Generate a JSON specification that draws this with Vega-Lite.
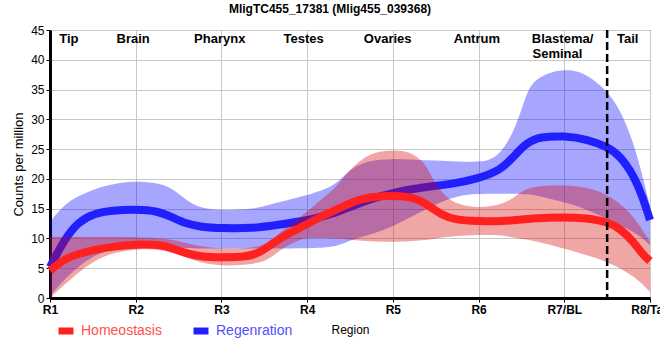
{
  "$schema": "https://vega.github.io/schema/vega-lite/v6.json",
  "width": 600,
  "height": 268,
  "autosize": {"type": "none"},
  "padding": {"left": 50, "top": 30, "right": 10, "bottom": 62},
  "title": {"text": "MligTC455_17381 (Mlig455_039368)", "fontSize": 12, "fontWeight": "bold", "font": "Liberation Sans", "color": "black", "anchor": "middle", "dx": -20, "offset": 8},
  "config": {
    "view": {"stroke": "black", "strokeWidth": 1},
    "axis": {"labelFont": "Liberation Sans", "titleFont": "Liberation Sans", "labelColor": "black", "titleColor": "black", "gridColor": "#c8c8c8", "gridWidth": 1, "domainColor": "black", "domainWidth": 3, "tickColor": "black", "tickSize": 4},
    "axisY": {"values": [0, 5, 10, 15, 20, 25, 30, 35, 40, 45], "labelFontSize": 12, "labelPadding": 2, "labelOverlap": false, "labelFlush": false, "titleFontSize": 13, "titleFontWeight": "normal", "titlePadding": 5}
  },
  "datasets": {
    "lines": [
      {"s": "Homeostasis", "x": 1.0, "v": 4.6},
      {"s": "Homeostasis", "x": 1.17, "v": 6.6},
      {"s": "Homeostasis", "x": 1.33, "v": 7.4},
      {"s": "Homeostasis", "x": 1.52, "v": 8.1},
      {"s": "Homeostasis", "x": 1.72, "v": 8.6},
      {"s": "Homeostasis", "x": 2.0, "v": 9.0},
      {"s": "Homeostasis", "x": 2.28, "v": 9.0},
      {"s": "Homeostasis", "x": 2.44, "v": 8.3},
      {"s": "Homeostasis", "x": 2.59, "v": 7.5},
      {"s": "Homeostasis", "x": 2.75, "v": 6.95},
      {"s": "Homeostasis", "x": 3.0, "v": 6.8},
      {"s": "Homeostasis", "x": 3.3, "v": 6.9},
      {"s": "Homeostasis", "x": 3.45, "v": 7.6},
      {"s": "Homeostasis", "x": 3.6, "v": 9.2},
      {"s": "Homeostasis", "x": 3.75, "v": 10.6},
      {"s": "Homeostasis", "x": 4.0, "v": 12.4},
      {"s": "Homeostasis", "x": 4.15, "v": 13.6},
      {"s": "Homeostasis", "x": 4.34, "v": 14.8},
      {"s": "Homeostasis", "x": 4.5, "v": 16.0},
      {"s": "Homeostasis", "x": 4.73, "v": 17.0},
      {"s": "Homeostasis", "x": 5.0, "v": 17.2},
      {"s": "Homeostasis", "x": 5.26, "v": 16.9},
      {"s": "Homeostasis", "x": 5.41, "v": 15.6},
      {"s": "Homeostasis", "x": 5.57, "v": 13.9},
      {"s": "Homeostasis", "x": 5.73, "v": 13.1},
      {"s": "Homeostasis", "x": 6.0, "v": 12.9},
      {"s": "Homeostasis", "x": 6.25, "v": 12.8},
      {"s": "Homeostasis", "x": 6.64, "v": 13.4},
      {"s": "Homeostasis", "x": 7.0, "v": 13.6},
      {"s": "Homeostasis", "x": 7.26, "v": 13.4},
      {"s": "Homeostasis", "x": 7.5, "v": 12.8},
      {"s": "Homeostasis", "x": 7.65, "v": 11.7},
      {"s": "Homeostasis", "x": 7.81, "v": 9.4},
      {"s": "Homeostasis", "x": 7.92, "v": 7.2},
      {"s": "Homeostasis", "x": 8.0, "v": 6.2},
      {"s": "Regenration", "x": 1.0, "v": 5.2},
      {"s": "Regenration", "x": 1.17, "v": 9.9},
      {"s": "Regenration", "x": 1.33, "v": 12.8},
      {"s": "Regenration", "x": 1.52, "v": 14.2},
      {"s": "Regenration", "x": 1.72, "v": 14.7},
      {"s": "Regenration", "x": 2.0, "v": 14.9},
      {"s": "Regenration", "x": 2.26, "v": 14.6},
      {"s": "Regenration", "x": 2.42, "v": 13.6},
      {"s": "Regenration", "x": 2.58, "v": 12.5},
      {"s": "Regenration", "x": 2.77, "v": 11.9},
      {"s": "Regenration", "x": 3.0, "v": 11.7},
      {"s": "Regenration", "x": 3.37, "v": 11.7},
      {"s": "Regenration", "x": 3.62, "v": 12.2},
      {"s": "Regenration", "x": 4.0, "v": 13.0},
      {"s": "Regenration", "x": 4.15, "v": 13.6},
      {"s": "Regenration", "x": 4.35, "v": 14.4},
      {"s": "Regenration", "x": 4.5, "v": 15.3},
      {"s": "Regenration", "x": 4.73, "v": 16.6},
      {"s": "Regenration", "x": 5.0, "v": 17.7},
      {"s": "Regenration", "x": 5.34, "v": 18.6},
      {"s": "Regenration", "x": 5.73, "v": 19.2},
      {"s": "Regenration", "x": 6.0, "v": 20.1},
      {"s": "Regenration", "x": 6.25, "v": 21.4},
      {"s": "Regenration", "x": 6.4, "v": 23.6},
      {"s": "Regenration", "x": 6.56, "v": 26.1},
      {"s": "Regenration", "x": 6.72, "v": 27.1},
      {"s": "Regenration", "x": 7.0, "v": 27.2},
      {"s": "Regenration", "x": 7.26, "v": 26.7},
      {"s": "Regenration", "x": 7.5, "v": 25.4},
      {"s": "Regenration", "x": 7.65, "v": 23.9},
      {"s": "Regenration", "x": 7.81, "v": 20.6},
      {"s": "Regenration", "x": 7.92, "v": 16.7},
      {"s": "Regenration", "x": 8.0, "v": 13.1}
    ],
    "bands": [
      {"s": "Homeostasis", "x": 1.0, "lo": 0.0, "hi": 10.3},
      {"s": "Homeostasis", "x": 1.19, "lo": 2.5, "hi": 10.3},
      {"s": "Homeostasis", "x": 1.39, "lo": 5.0, "hi": 10.3},
      {"s": "Homeostasis", "x": 1.58, "lo": 6.8, "hi": 10.3},
      {"s": "Homeostasis", "x": 1.78, "lo": 7.7, "hi": 10.3},
      {"s": "Homeostasis", "x": 2.0, "lo": 8.2, "hi": 10.2},
      {"s": "Homeostasis", "x": 2.28, "lo": 8.2, "hi": 10.1},
      {"s": "Homeostasis", "x": 2.5, "lo": 7.3, "hi": 9.6},
      {"s": "Homeostasis", "x": 2.75, "lo": 5.9, "hi": 8.6},
      {"s": "Homeostasis", "x": 3.0, "lo": 5.4, "hi": 8.3},
      {"s": "Homeostasis", "x": 3.25, "lo": 5.5, "hi": 8.3},
      {"s": "Homeostasis", "x": 3.5, "lo": 6.0, "hi": 8.7},
      {"s": "Homeostasis", "x": 3.62, "lo": 7.3, "hi": 10.2},
      {"s": "Homeostasis", "x": 3.75, "lo": 8.6, "hi": 11.8},
      {"s": "Homeostasis", "x": 3.88, "lo": 9.6, "hi": 13.2},
      {"s": "Homeostasis", "x": 4.0, "lo": 10.1, "hi": 14.5},
      {"s": "Homeostasis", "x": 4.15, "lo": 10.1, "hi": 16.4},
      {"s": "Homeostasis", "x": 4.35, "lo": 10.0, "hi": 18.7},
      {"s": "Homeostasis", "x": 4.5, "lo": 9.8, "hi": 21.7},
      {"s": "Homeostasis", "x": 4.73, "lo": 9.5, "hi": 24.4},
      {"s": "Homeostasis", "x": 5.0, "lo": 9.4, "hi": 24.9},
      {"s": "Homeostasis", "x": 5.2, "lo": 9.5, "hi": 24.6},
      {"s": "Homeostasis", "x": 5.35, "lo": 9.7, "hi": 23.0},
      {"s": "Homeostasis", "x": 5.43, "lo": 9.8, "hi": 21.1},
      {"s": "Homeostasis", "x": 5.51, "lo": 10.0, "hi": 18.9},
      {"s": "Homeostasis", "x": 5.61, "lo": 10.2, "hi": 17.2},
      {"s": "Homeostasis", "x": 5.7, "lo": 10.4, "hi": 16.1},
      {"s": "Homeostasis", "x": 5.86, "lo": 10.5, "hi": 15.4},
      {"s": "Homeostasis", "x": 6.0, "lo": 10.6, "hi": 15.2},
      {"s": "Homeostasis", "x": 6.25, "lo": 10.6, "hi": 15.6},
      {"s": "Homeostasis", "x": 6.4, "lo": 10.2, "hi": 16.7},
      {"s": "Homeostasis", "x": 6.5, "lo": 9.9, "hi": 17.9},
      {"s": "Homeostasis", "x": 6.64, "lo": 9.7, "hi": 18.8},
      {"s": "Homeostasis", "x": 7.0, "lo": 8.3, "hi": 19.0},
      {"s": "Homeostasis", "x": 7.26, "lo": 7.2, "hi": 18.6},
      {"s": "Homeostasis", "x": 7.5, "lo": 6.1, "hi": 17.5},
      {"s": "Homeostasis", "x": 7.73, "lo": 4.4, "hi": 15.0},
      {"s": "Homeostasis", "x": 7.88, "lo": 2.8, "hi": 12.2},
      {"s": "Homeostasis", "x": 8.0, "lo": 1.0, "hi": 9.4},
      {"s": "Regenration", "x": 1.0, "lo": 0.3, "hi": 12.8},
      {"s": "Regenration", "x": 1.19, "lo": 3.5, "hi": 16.1},
      {"s": "Regenration", "x": 1.39, "lo": 6.0, "hi": 17.5},
      {"s": "Regenration", "x": 1.58, "lo": 7.6, "hi": 18.6},
      {"s": "Regenration", "x": 1.78, "lo": 8.3, "hi": 19.3},
      {"s": "Regenration", "x": 2.0, "lo": 8.6, "hi": 19.6},
      {"s": "Regenration", "x": 2.28, "lo": 8.6, "hi": 19.3},
      {"s": "Regenration", "x": 2.44, "lo": 8.5, "hi": 18.3},
      {"s": "Regenration", "x": 2.59, "lo": 8.4, "hi": 16.4},
      {"s": "Regenration", "x": 2.75, "lo": 8.3, "hi": 15.1},
      {"s": "Regenration", "x": 3.0, "lo": 8.3, "hi": 14.7},
      {"s": "Regenration", "x": 3.37, "lo": 8.3, "hi": 14.9},
      {"s": "Regenration", "x": 3.53, "lo": 8.3, "hi": 15.6},
      {"s": "Regenration", "x": 4.0, "lo": 8.3, "hi": 17.2},
      {"s": "Regenration", "x": 4.27, "lo": 8.5, "hi": 18.5},
      {"s": "Regenration", "x": 4.4, "lo": 9.0, "hi": 20.0},
      {"s": "Regenration", "x": 4.5, "lo": 9.7, "hi": 21.6},
      {"s": "Regenration", "x": 4.71, "lo": 10.5, "hi": 23.1},
      {"s": "Regenration", "x": 5.0, "lo": 12.0, "hi": 23.4},
      {"s": "Regenration", "x": 5.25, "lo": 13.9, "hi": 23.2},
      {"s": "Regenration", "x": 5.5, "lo": 15.8, "hi": 23.1},
      {"s": "Regenration", "x": 5.75, "lo": 17.2, "hi": 22.9},
      {"s": "Regenration", "x": 6.0, "lo": 17.5, "hi": 22.8},
      {"s": "Regenration", "x": 6.19, "lo": 17.5, "hi": 23.3},
      {"s": "Regenration", "x": 6.35, "lo": 17.5, "hi": 26.1},
      {"s": "Regenration", "x": 6.48, "lo": 17.5, "hi": 30.6},
      {"s": "Regenration", "x": 6.56, "lo": 17.4, "hi": 34.4},
      {"s": "Regenration", "x": 6.64, "lo": 17.3, "hi": 36.4},
      {"s": "Regenration", "x": 6.8, "lo": 16.8, "hi": 37.8},
      {"s": "Regenration", "x": 7.0, "lo": 16.1, "hi": 38.4},
      {"s": "Regenration", "x": 7.18, "lo": 15.3, "hi": 38.1},
      {"s": "Regenration", "x": 7.34, "lo": 14.3, "hi": 36.7},
      {"s": "Regenration", "x": 7.5, "lo": 13.3, "hi": 34.7},
      {"s": "Regenration", "x": 7.65, "lo": 12.2, "hi": 31.7},
      {"s": "Regenration", "x": 7.81, "lo": 11.1, "hi": 26.1},
      {"s": "Regenration", "x": 7.92, "lo": 10.0, "hi": 20.0},
      {"s": "Regenration", "x": 8.0, "lo": 8.9, "hi": 15.5}
    ],
    "regions": [
      {"label": "Tip", "x": 1.22, "y": 43.5},
      {"label": "Brain", "x": 1.97, "y": 43.5},
      {"label": "Pharynx", "x": 2.98, "y": 43.5},
      {"label": "Testes", "x": 3.96, "y": 43.5},
      {"label": "Ovaries", "x": 4.94, "y": 43.5},
      {"label": "Antrum", "x": 5.98, "y": 43.5},
      {"label": "Blastema/", "x": 6.98, "y": 43.5},
      {"label": "Seminal", "x": 6.92, "y": 41.0},
      {"label": "Tail", "x": 7.74, "y": 43.5}
    ]
  },
  "layer": [
    {
      "data": {"name": "bands"},
      "transform": [{"filter": "datum.s === 'Regenration'"}],
      "mark": {"type": "area", "interpolate": "basis", "color": "#0000ff", "opacity": 0.35},
      "encoding": {
        "x": {"field": "x", "type": "quantitative", "scale": {"domain": [1, 8], "nice": false, "zero": false},
          "axis": {"values": [1, 2, 3, 4, 5, 6, 7, 8], "labelExpr": "['R1','R2','R3','R4','R5','R6','R7/BL','R8/Tail'][datum.value - 1]", "labelFontSize": 12, "labelFontWeight": "bold", "labelPadding": 2, "title": "Region", "titleFontSize": 12, "titleFontWeight": "normal", "titlePadding": 9, "labelOverlap": false, "labelBound": false, "labelFlush": false}},
        "y": {"field": "lo", "type": "quantitative", "scale": {"domain": [0, 45], "nice": false, "zero": true},
          "axis": {"values": [0, 5, 10, 15, 20, 25, 30, 35, 40, 45], "tickCount": 10, "title": "Counts per million"}},
        "y2": {"field": "hi"}
      }
    },
    {
      "data": {"name": "lines"},
      "transform": [{"filter": "datum.s === 'Regenration'"}],
      "mark": {"type": "line", "interpolate": "basis", "strokeWidth": 8, "strokeCap": "butt"},
      "encoding": {
        "x": {"field": "x", "type": "quantitative"},
        "y": {"field": "v", "type": "quantitative", "axis": {"values": [0, 5, 10, 15, 20, 25, 30, 35, 40, 45], "tickCount": 10, "title": "Counts per million"}},
        "color": {"field": "s", "type": "nominal", "scale": {"domain": ["Homeostasis", "Regenration"], "range": ["#ff2020", "#2020ff"]},
          "legend": {"orient": "none", "legendX": 5, "legendY": 290, "direction": "horizontal", "title": null, "symbolType": "M-1,0L1,0", "symbolSize": 225, "symbolStrokeWidth": 7, "labelFontSize": 14, "labelFont": "Liberation Sans", "labelOffset": 4, "columnPadding": 17, "labelColor": {"expr": "datum.label === 'Homeostasis' ? '#ff5050' : '#5050ff'"}}}
      }
    },
    {
      "data": {"name": "bands"},
      "transform": [{"filter": "datum.s === 'Homeostasis'"}],
      "mark": {"type": "area", "interpolate": "basis", "color": "#d80000", "opacity": 0.35},
      "encoding": {
        "x": {"field": "x", "type": "quantitative"},
        "y": {"field": "lo", "type": "quantitative", "axis": {"values": [0, 5, 10, 15, 20, 25, 30, 35, 40, 45], "tickCount": 10, "title": "Counts per million"}},
        "y2": {"field": "hi"}
      }
    },
    {
      "data": {"name": "lines"},
      "transform": [{"filter": "datum.s === 'Homeostasis'"}],
      "mark": {"type": "line", "interpolate": "basis", "strokeWidth": 8, "strokeCap": "butt"},
      "encoding": {
        "x": {"field": "x", "type": "quantitative"},
        "y": {"field": "v", "type": "quantitative", "axis": {"values": [0, 5, 10, 15, 20, 25, 30, 35, 40, 45], "tickCount": 10, "title": "Counts per million"}},
        "color": {"field": "s", "type": "nominal"}
      }
    },
    {
      "data": {"values": [{"x": 7.5}]},
      "mark": {"type": "rule", "color": "black", "strokeWidth": 2.5, "strokeDash": [8, 4]},
      "encoding": {"x": {"field": "x", "type": "quantitative"}}
    },
    {
      "data": {"name": "regions"},
      "mark": {"type": "text", "font": "Liberation Sans", "fontSize": 13, "fontWeight": "bold", "color": "black", "align": "center", "baseline": "middle"},
      "encoding": {
        "x": {"field": "x", "type": "quantitative"},
        "y": {"field": "y", "type": "quantitative", "axis": {"values": [0, 5, 10, 15, 20, 25, 30, 35, 40, 45], "tickCount": 10, "title": "Counts per million"}},
        "text": {"field": "label"}
      }
    }
  ]
}
